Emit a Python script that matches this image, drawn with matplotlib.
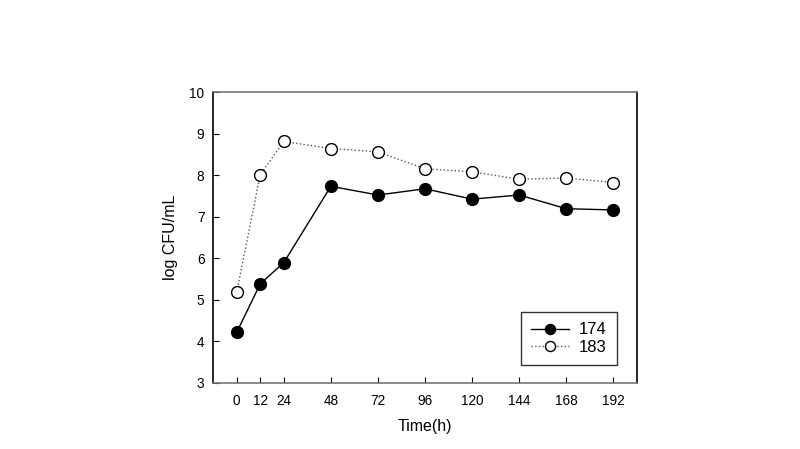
import matplotlib
matplotlib.use("Agg")
import matplotlib.pyplot as plt

plt.rcParams['font.family'] = ['Liberation Sans', 'DejaVu Sans']

time_h = [0, 12, 24, 48, 72, 96, 120, 144, 168, 192]
s174 = [4.22, 5.39, 5.90, 7.74, 7.53, 7.68, 7.43, 7.53, 7.20, 7.17]
s183 = [5.19, 8.02, 8.82, 8.65, 8.57, 8.16, 8.09, 7.91, 7.94, 7.83]
xticks = [0, 12, 24, 48, 72, 96, 120, 144, 168, 192]
yticks = [3, 4, 5, 6, 7, 8, 9, 10]

fig = plt.figure(figsize=(8, 4.49), dpi=100)
ax = fig.add_axes([0.266, 0.147, 0.530, 0.647])

ax.plot(time_h, s174, '-', color='black', lw=1.0, marker='o', ms=8.5,
        mfc='black', mec='black', label='174', zorder=3)
ax.plot(time_h, s183, ':', color='#555555', lw=1.0, marker='o', ms=8.5,
        mfc='white', mec='black', mew=1.0, label='183', zorder=3)

ax.set_xlim(-12.2, 204)
ax.set_ylim(3, 10)
ax.set_xticks(xticks)
ax.set_yticks(yticks)
ax.tick_params(direction='in', length=4, labelsize=9.8, width=0.8)
ax.tick_params(axis='x', pad=8)
ax.tick_params(axis='y', pad=6)
for s in ['left', 'right']:
    ax.spines[s].set_color('black')
for s in ['top', 'bottom']:
    ax.spines[s].set_color('#777777')
for s in ax.spines.values():
    s.set_linewidth(1.2)

ax.set_xlabel('Time(h)', fontsize=11.5, labelpad=8)
ax.set_ylabel('log CFU/mL', fontsize=11.5, labelpad=8)

leg = ax.legend(loc='lower right', bbox_to_anchor=(0.953, 0.062), borderaxespad=0,
                fontsize=12, markerscale=0.85,
                frameon=True, fancybox=False, edgecolor='black',
                handlelength=2.3, handletextpad=0.6, borderpad=0.6,
                labelspacing=0.15)
leg.get_frame().set_linewidth(1.0)

fig.savefig('out.png', dpi=100)
